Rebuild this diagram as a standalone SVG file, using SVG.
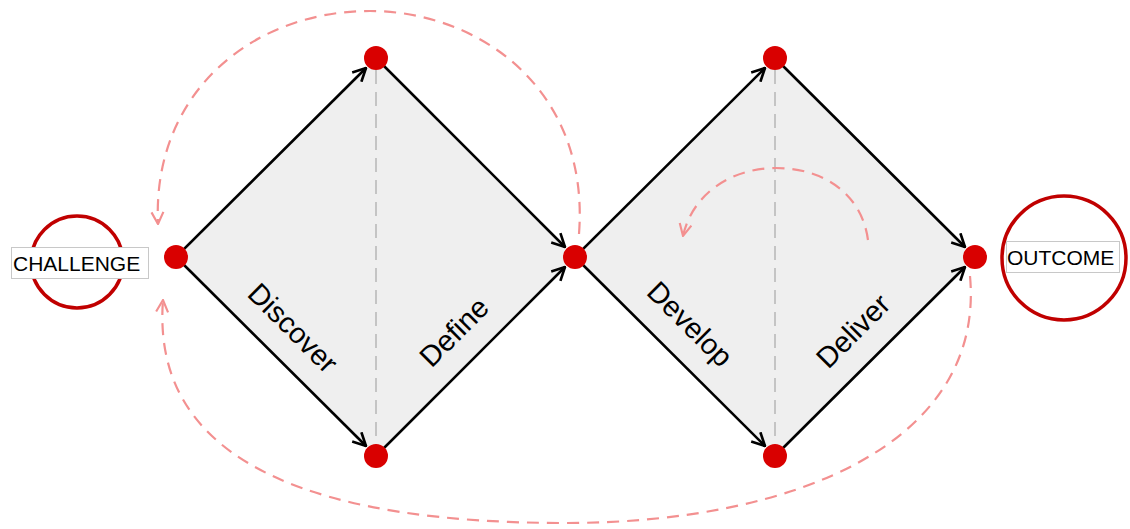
<svg xmlns="http://www.w3.org/2000/svg" width="1130" height="529" viewBox="0 0 1130 529">
<style>
.diamond{fill:#efefef;stroke:none}
.edge{stroke:#000;stroke-width:2.6;fill:none;marker-end:url(#ah)}
.guide{stroke:#c4c4c4;stroke-width:2;stroke-dasharray:14 8;fill:none}
.loop{stroke:#f39090;stroke-width:2.2;stroke-dasharray:12 8;fill:none;marker-end:url(#ahp)}
.dot{fill:#d90000}
.ring{fill:#fff;stroke:#c00000;stroke-width:3.5}
.lbox{fill:#fff;stroke:#c8c8c8;stroke-width:1}
.lbl{font-family:"Liberation Sans",Arial,sans-serif;font-size:21px;fill:#000}
.phase{font-family:"Liberation Sans",Arial,sans-serif;font-size:29px;fill:#000;text-anchor:middle;dominant-baseline:central}
</style>
<defs>
<marker id="ah" viewBox="0 0 12 12" refX="11" refY="6" markerWidth="6" markerHeight="6" orient="auto" markerUnits="strokeWidth">
<path d="M1,1 L11,6 L1,11" fill="none" stroke="#000" stroke-width="2"/>
</marker>
<marker id="ahp" viewBox="0 0 12 12" refX="11" refY="6" markerWidth="6.5" markerHeight="6.5" orient="auto" markerUnits="strokeWidth">
<path d="M1,1 L11,6 L1,11" fill="none" stroke="#f39090" stroke-width="1.8"/>
</marker>
</defs>
<g id="diamonds">
<polygon class="diamond" points="176,257 376,58 575,257 376,456"/>
<polygon class="diamond" points="575,257 775,58 975,257 775,456"/>
</g>
<g id="connectors">
<line class="guide" x1="376" y1="70" x2="376" y2="445"/>
<line class="guide" x1="775" y1="70" x2="775" y2="445"/>
<line class="edge" x1="176" y1="257" x2="366" y2="68"/>
<line class="edge" x1="176" y1="257" x2="366" y2="446"/>
<line class="edge" x1="376" y1="58" x2="565" y2="247"/>
<line class="edge" x1="376" y1="456" x2="565" y2="267"/>
<line class="edge" x1="575" y1="257" x2="765" y2="68"/>
<line class="edge" x1="575" y1="257" x2="765" y2="446"/>
<line class="edge" x1="775" y1="58" x2="965" y2="247"/>
<line class="edge" x1="775" y1="456" x2="965" y2="267"/>
<path class="loop" d="M579,234 C590,90 480,11 370,11 C250,11 152,95 158,224"/>
<path class="loop" d="M970,276 C985,440 800,523 565,523 C330,523 150,470 163,300"/>
<path class="loop" d="M868,240 C862,195 825,168 776,168 C730,168 692,195 683,236"/>
</g>
<g id="challenge">
<circle class="ring" cx="77" cy="262" r="46"/>
<rect class="lbox" x="11.5" y="247.5" width="137" height="31"/>
<text class="lbl" x="13" y="271">CHALLENGE</text>
</g>
<g id="outcome">
<circle class="ring" cx="1064" cy="258" r="62"/>
<rect class="lbox" x="1006.5" y="241.5" width="113" height="31"/>
<text class="lbl" x="1007" y="265">OUTCOME</text>
</g>
<g id="n-start"><circle class="dot" cx="176" cy="257" r="12"/></g>
<g id="n-top1"><circle class="dot" cx="376" cy="58" r="12"/></g>
<g id="n-bottom1"><circle class="dot" cx="376" cy="456" r="12"/></g>
<g id="n-mid"><circle class="dot" cx="575" cy="257" r="12"/></g>
<g id="n-top2"><circle class="dot" cx="775" cy="58" r="12"/></g>
<g id="n-bottom2"><circle class="dot" cx="775" cy="456" r="12"/></g>
<g id="n-end"><circle class="dot" cx="975" cy="257" r="12"/></g>
<g id="labels">
<text class="phase" transform="translate(293,328) rotate(45)">Discover</text>
<text class="phase" transform="translate(454,332) rotate(-45)">Define</text>
<text class="phase" transform="translate(690,324) rotate(45)">Develop</text>
<text class="phase" transform="translate(853,331) rotate(-45)">Deliver</text>
</g>
</svg>
